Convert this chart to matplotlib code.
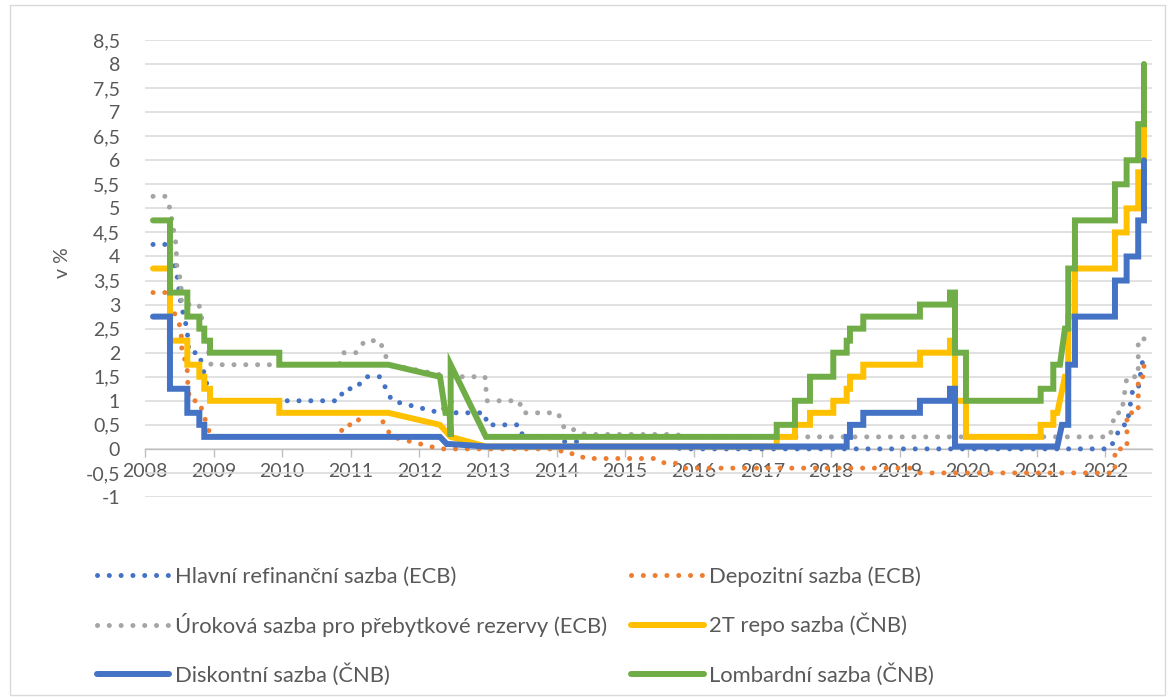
import matplotlib
matplotlib.use("Agg")
import matplotlib.pyplot as plt
from matplotlib.patches import Rectangle

plt.rcParams['font.family'] = ['Lato', 'DejaVu Sans']

# ---------------- data ----------------
year_ticks = list(range(2008, 2023))
year_labels = [str(y) for y in year_ticks]
y_ticks = [-1, -0.5, 0, 0.5, 1, 1.5, 2, 2.5, 3, 3.5, 4, 4.5, 5, 5.5, 6, 6.5, 7, 7.5, 8, 8.5]
y_labels = ['-1', '-0,5', '0', '0,5', '1', '1,5', '2', '2,5', '3', '3,5', '4', '4,5',
            '5', '5,5', '6', '6,5', '7', '7,5', '8', '8,5']

labels = ['Hlavní refinanční sazba (ECB)', 'Depozitní sazba (ECB)',
          'Úroková sazba pro přebytkové rezervy (ECB)', '2T repo sazba (ČNB)',
          'Diskontní sazba (ČNB)', 'Lombardní sazba (ČNB)']

# Hlavní refinanční sazba (ECB)
hl_x = [2008.117, 2008.292, 2008.452, 2008.525, 2008.612, 2008.641, 2008.787, 2008.962,
        2010.828, 2010.901, 2011.076, 2011.207, 2011.426, 2011.601, 2012.300, 2012.456,
        2012.534, 2012.956, 2012.985, 2013.452, 2013.510, 2014.020, 2014.079, 2014.297,
        2014.341, 2015.755, 2015.802, 2022.067, 2022.238, 2022.315, 2022.402, 2022.479,
        2022.563]
hl_y = [4.25, 4.25, 3.75, 3.0, 2.5, 2.0, 2.0, 1.0, 1.0, 1.25, 1.25, 1.5, 1.5, 1.0, 0.75,
        1.0, 0.75, 0.75, 0.5, 0.5, 0.25, 0.25, 0.15, 0.15, 0.05, 0.05, 0.0, 0.0, 0.5, 0.5,
        1.25, 1.25, 2.0]

# Depozitní sazba (ECB)
dep_x = [2008.117, 2008.292, 2008.452, 2008.525, 2008.539, 2008.612, 2008.627, 2008.656,
         2008.787, 2008.962, 2010.828, 2010.901, 2011.076, 2011.163, 2011.426, 2011.484,
         2011.601, 2012.300, 2014.020, 2014.122, 2014.297, 2014.414, 2015.464, 2015.580,
         2015.755, 2015.843, 2019.181, 2019.297, 2022.067, 2022.140, 2022.140, 2022.315,
         2022.315, 2022.479, 2022.479, 2022.563, 2022.563]
dep_y = [3.25, 3.25, 2.75, 2.5, 2.0, 1.75, 1.25, 1.0, 1.0, 0.25, 0.25, 0.5, 0.5, 0.75,
         0.75, 0.5, 0.25, 0.0, 0.0, -0.1, -0.1, -0.2, -0.2, -0.3, -0.3, -0.4, -0.4, -0.5,
         -0.5, -0.5, 0.0, 0.0, 0.75, 0.75, 1.5, 1.5, 1.75]

# Úroková sazba pro přebytkové rezervy (ECB)
ur_x = [2008.117, 2008.292, 2008.364, 2008.452, 2008.466, 2008.525, 2008.532, 2008.787,
        2008.962, 2010.828, 2010.901, 2011.076, 2011.207, 2011.426, 2011.484, 2011.571,
        2012.456, 2012.956, 2012.985, 2013.452, 2013.510, 2014.020, 2014.122, 2014.297,
        2014.414, 2015.755, 2015.843, 2022.067, 2022.140, 2022.238, 2022.315, 2022.479,
        2022.479, 2022.563, 2022.563]
ur_y = [5.25, 5.25, 5.0, 4.25, 3.75, 3.5, 3.0, 3.0, 1.75, 1.75, 2.0, 2.0, 2.25, 2.25, 2.0,
        1.75, 1.5, 1.5, 1.0, 1.0, 0.75, 0.75, 0.4, 0.4, 0.3, 0.3, 0.25, 0.25, 0.75, 0.75,
        1.5, 1.5, 2.25, 2.25, 2.5]

# 2T repo sazba (ČNB)
repo_x = [2008.117, 2008.364, 2008.364, 2008.617, 2008.617, 2008.792, 2008.792, 2008.864,
          2008.864, 2008.948, 2008.948, 2009.958, 2009.958, 2011.547, 2012.300, 2012.456,
          2012.971, 2017.209, 2017.209, 2017.475, 2017.475, 2017.694, 2017.694, 2018.034,
          2018.034, 2018.229, 2018.229, 2018.277, 2018.277, 2018.471, 2018.471, 2019.297,
          2019.297, 2019.735, 2019.735, 2019.808, 2019.808, 2019.968, 2019.968, 2021.057,
          2021.057, 2021.241, 2021.241, 2021.299, 2021.411, 2021.459, 2021.459, 2021.557,
          2021.557, 2022.140, 2022.140, 2022.310, 2022.310, 2022.479, 2022.479, 2022.563,
          2022.563]
repo_y = [3.75, 3.75, 2.25, 2.25, 1.75, 1.75, 1.5, 1.5, 1.25, 1.25, 1.0, 1.0, 0.75, 0.75,
          0.5, 0.25, 0.05, 0.05, 0.25, 0.25, 0.5, 0.5, 0.75, 0.75, 1.0, 1.0, 1.25, 1.25,
          1.5, 1.5, 1.75, 1.75, 2.0, 2.0, 2.25, 2.25, 1.0, 1.0, 0.25, 0.25, 0.5, 0.5, 0.75,
          0.75, 1.5, 1.5, 2.75, 2.75, 3.75, 3.75, 4.5, 4.5, 5.0, 5.0, 5.75, 5.75, 7.0]

# Diskontní sazba (ČNB)
disk_x = [2008.117, 2008.364, 2008.364, 2008.617, 2008.617, 2008.792, 2008.792, 2008.864,
          2008.864, 2012.300, 2012.400, 2012.456, 2012.971, 2018.229, 2018.229, 2018.277,
          2018.277, 2018.471, 2018.471, 2019.297, 2019.297, 2019.735, 2019.735, 2019.808,
          2019.808, 2021.299, 2021.367, 2021.459, 2021.459, 2021.557, 2021.557, 2022.140,
          2022.140, 2022.310, 2022.310, 2022.479, 2022.479, 2022.563, 2022.563]
disk_y = [2.75, 2.75, 1.25, 1.25, 0.75, 0.75, 0.5, 0.5, 0.25, 0.25, 0.1, 0.1, 0.05, 0.05,
          0.25, 0.25, 0.5, 0.5, 0.75, 0.75, 1.0, 1.0, 1.25, 1.25, 0.05, 0.05, 0.5, 0.5,
          1.75, 1.75, 2.75, 2.75, 3.5, 3.5, 4.0, 4.0, 4.75, 4.75, 6.0]

# Lombardní sazba (ČNB)
lomb_x = [2008.117, 2008.364, 2008.364, 2008.617, 2008.617, 2008.792, 2008.792, 2008.864,
          2008.864, 2008.948, 2008.948, 2009.958, 2009.958, 2011.547, 2012.300, 2012.380,
          2012.440, 2012.456, 2012.456, 2012.971, 2017.209, 2017.209, 2017.475, 2017.475,
          2017.694, 2017.694, 2018.034, 2018.034, 2018.229, 2018.229, 2018.277, 2018.277,
          2018.471, 2018.471, 2019.297, 2019.297, 2019.735, 2019.735, 2019.808, 2019.808,
          2019.968, 2019.968, 2021.057, 2021.057, 2021.241, 2021.241, 2021.338, 2021.411,
          2021.459, 2021.459, 2021.557, 2021.557, 2022.140, 2022.140, 2022.310, 2022.310,
          2022.479, 2022.479, 2022.563, 2022.563]
lomb_y = [4.75, 4.75, 3.25, 3.25, 2.75, 2.75, 2.5, 2.5, 2.25, 2.25, 2.0, 2.0, 1.75, 1.75,
          1.5, 0.75, 0.75, 0.25, 1.75, 0.25, 0.25, 0.5, 0.5, 1.0, 1.0, 1.5, 1.5, 2.0, 2.0,
          2.25, 2.25, 2.5, 2.5, 2.75, 2.75, 3.0, 3.0, 3.25, 3.25, 2.0, 2.0, 1.0, 1.0, 1.25,
          1.25, 1.75, 1.75, 2.5, 2.5, 3.75, 3.75, 4.75, 4.75, 5.5, 5.5, 6.0, 6.0, 6.75,
          6.75, 8.0]

# ---------------- style ----------------
C_BLUE = '#4472C4'
C_ORANGE = '#ED7D31'
C_GRAY = '#A5A5A5'
C_YELLOW = '#FFC000'
C_GREEN = '#70AD47'
TXT = '#595959'
GRID = '#D9D9D9'

DOT = dict(lw=3.6, linestyle=(0, (0.01, 2.35)), dash_capstyle='round')
SOLID = dict(lw=4.3, solid_capstyle='round', solid_joinstyle='miter')

fig = plt.figure(figsize=(11.71, 6.97), dpi=100)
ax = fig.add_axes([145 / 1171, 1 - 497 / 697, 1007 / 1171, 457 / 697])

series = [
    (hl_x, hl_y, C_BLUE, DOT),
    (dep_x, dep_y, C_ORANGE, DOT),
    (ur_x, ur_y, C_GRAY, DOT),
    (repo_x, repo_y, C_YELLOW, SOLID),
    (disk_x, disk_y, C_BLUE, SOLID),
    (lomb_x, lomb_y, C_GREEN, SOLID),
]
handles = []
for i, (xs, ys, col, st) in enumerate(series):
    ln, = ax.plot(xs, ys, color=col, zorder=3 + i, label=labels[i], **st)
    handles.append(ln)

ax.set_xlim(2008, 2022.68)
ax.set_ylim(-1, 8.5)

ax.set_yticks(y_ticks)
ax.set_yticklabels(y_labels)
ax.yaxis.grid(True, color=GRID, lw=1.1)
ax.set_axisbelow(True)
ax.tick_params(axis='y', length=0, pad=18, labelsize=14, labelcolor=TXT)

ax.set_xticks(year_ticks)
ax.set_xticklabels(year_labels)
ax.tick_params(axis='x', direction='out', length=6, width=1.0, color='#BFBFBF',
               pad=4.5, labelsize=14, labelcolor=TXT)

for s in ['left', 'right', 'top']:
    ax.spines[s].set_visible(False)
ax.spines['bottom'].set_position(('data', 0))
ax.spines['bottom'].set_color('#BFBFBF')
ax.spines['bottom'].set_linewidth(1.0)
ax.spines['bottom'].set_zorder(2.5)

fig.text(62 / 1171, 1 - 263 / 697, 'v %', rotation=90, ha='center', va='center',
         fontsize=14, color=TXT)

order = [0, 2, 4, 1, 3, 5]
leg = fig.legend([handles[i] for i in order], [labels[i] for i in order], ncol=2,
                 loc='upper left', bbox_to_anchor=(97 / 1171, 1 - 566 / 697),
                 frameon=False, fontsize=15.8, handlelength=3.3, handletextpad=0.25,
                 columnspacing=1.1, labelspacing=1.2, borderpad=0, borderaxespad=0)
for t in leg.get_texts():
    t.set_color(TXT)

fig.patches.append(Rectangle((10 / 1171, 2 / 697), 1155 / 1171, 690 / 697,
                             transform=fig.transFigure, fill=False,
                             edgecolor='#D9D9D9', lw=1.0))

fig.savefig('out.png', dpi=100)
